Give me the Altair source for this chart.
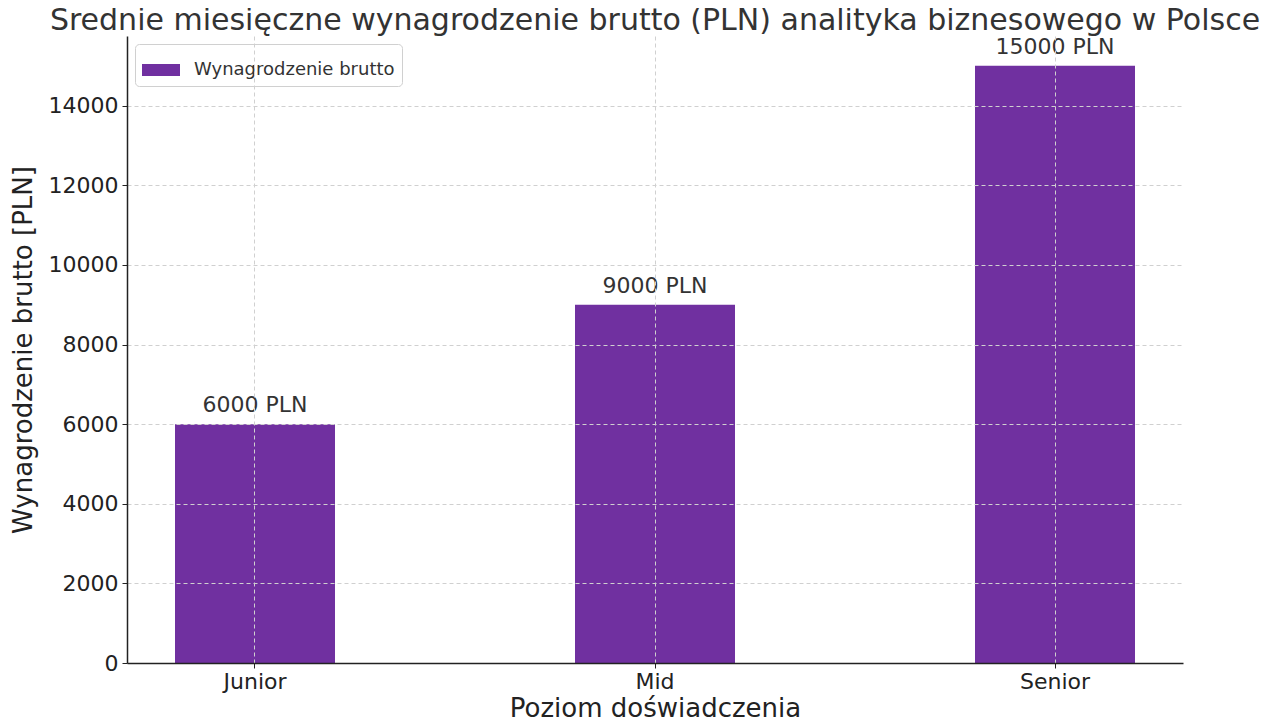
import pandas as pd
import altair as alt

levels = ["Junior", "Mid", "Senior"]
salaries = [6000, 9000, 15000]
series_name = "Wynagrodzenie brutto"
y_ticks = [0, 2000, 4000, 6000, 8000, 10000, 12000, 14000]

df = pd.DataFrame({"level": levels, "salary": salaries})
df["series"] = series_name
df["label"] = df["salary"].astype(str) + " PLN"

FONT = "DejaVu Sans"
PURPLE = "#7030a0"

x = alt.X(
    "level:N", sort=levels, title="Poziom doświadczenia",
    scale=alt.Scale(paddingInner=0.6, paddingOuter=0.12),
    axis=alt.Axis(labelAngle=0, labelFontSize=22, titleFontSize=26, bandPosition=0.5,
                  grid=True, gridDash=[4, 3], gridColor="#d0d0d0", gridWidth=1,
                  domainColor="#222222", domainWidth=1.5, tickColor="#222222",
                  tickSize=5, labelPadding=3, titlePadding=3, zindex=1,
                  labelColor="#222222", titleColor="#222222"),
)
y = alt.Y(
    "salary:Q", title="Wynagrodzenie brutto [PLN]",
    scale=alt.Scale(domain=[0, 15750], nice=False),
    axis=alt.Axis(values=y_ticks, format="d", labelFontSize=22, titleFontSize=26,
                  grid=True, gridDash=[4, 3], gridColor="#d0d0d0", gridWidth=1,
                  domainColor="#222222", domainWidth=1.5, tickColor="#222222",
                  tickSize=5, labelPadding=4, titlePadding=12, zindex=1,
                  labelColor="#222222", titleColor="#222222"),
)

bars = alt.Chart(df).mark_bar(opacity=1).encode(
    x=x, y=y,
    color=alt.Color("series:N", scale=alt.Scale(range=[PURPLE]),
                    legend=alt.Legend(title=None, orient="top-left", offset=8,
                                      labelFontSize=18, labelColor="#333333", labelLimit=400,
                                      symbolType="M-1,-0.316L1,-0.316L1,0.316L-1,0.316Z",
                                      symbolSize=1444, symbolStrokeWidth=0,
                                      symbolOpacity=1,
                                      fillColor="white", strokeColor="#d0d0d0",
                                      cornerRadius=4, padding=7, labelOffset=14)),
)

labels = alt.Chart(df).mark_text(fontSize=22, dy=-12, baseline="alphabetic",
                                 color="#333333", font=FONT).encode(
    x=alt.X("level:N", sort=levels), y="salary:Q", text="label:N"
)

chart = (bars + labels).properties(
    width=1056, height=627,
    autosize=alt.AutoSizeParams(type="none"),
    padding={"left": 119, "top": 28, "right": 89, "bottom": 57},
    title=alt.TitleParams(
        "Średnie miesięczne wynagrodzenie brutto (PLN) analityka biznesowego w Polsce",
        fontSize=30, font=FONT, fontWeight="normal", color="#333333", offset=0,
        anchor="middle",
    ),
).configure(font=FONT).configure_view(stroke=None).configure_axis(
    labelFont=FONT, titleFont=FONT, titleFontWeight="normal"
).configure_legend(labelFont=FONT)

chart.save("out.html", embed_options={"renderer": "svg", "actions": False})
